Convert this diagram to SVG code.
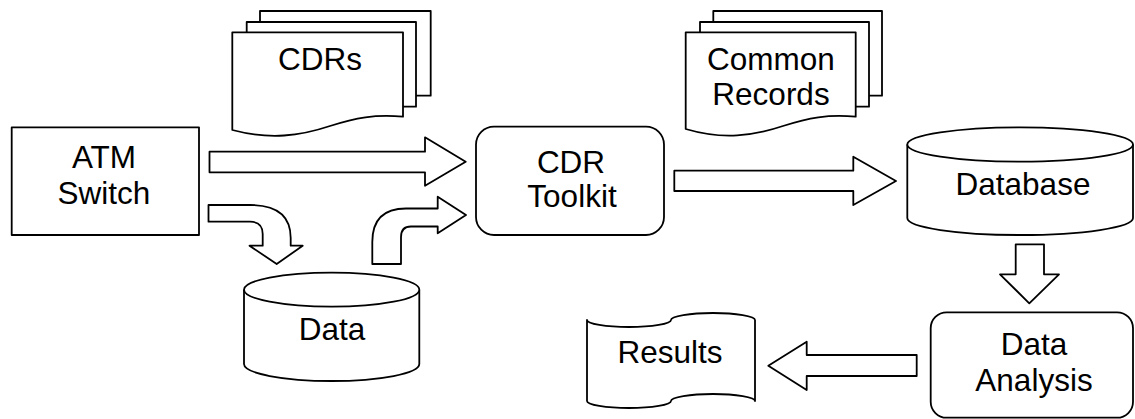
<svg xmlns="http://www.w3.org/2000/svg" width="1135" height="419" viewBox="0 0 1135 419">
<style>
.s{fill:#fff;stroke:#000;stroke-width:1.8;stroke-linejoin:round}
.t{font-family:"Liberation Sans",Arial,sans-serif;font-size:31.5px;fill:#000;text-anchor:middle}
</style>
<rect width="1135" height="419" fill="#fff"/>
<g id="connectors">
<path class="s" d="M209.5,151.7 L425,151.7 L425,137.3 L465.7,161.7 L425,185.7 L425,172.3 L209.5,172.3 Z"/>
<path class="s" d="M208.5,205 L250,205 Q290.7,205 290.7,238 L290.7,245.7 L302.7,245.7 L276.7,264 L249.5,245.7 L262.7,245.7 L262.7,234 Q262.7,221.7 250,221.7 L208.5,221.7 Z"/>
<path class="s" d="M372.3,264 L372.3,242 Q372.3,208.5 406,208.5 L437.7,208.5 L437.7,196.7 L466,215 L437.7,233.3 L437.7,226.5 L411,226.5 Q401,226.5 401,237 L401,264 Z"/>
<path class="s" d="M674.3,170.7 L853.3,170.7 L853.3,156.7 L896,181 L853.3,205 L853.3,191 L674.3,191 Z"/>
<path class="s" d="M1015.7,244.3 L1044,244.3 L1044,274.3 L1059,274.3 L1029.3,303.3 L1000,274.3 L1015.7,274.3 Z"/>
<path class="s" d="M916.7,355 L806.7,355 L806.7,341.7 L768.3,365.8 L806.7,390 L806.7,376 L916.7,376 Z"/>
</g>
<g id="atm-switch">
<rect class="s" x="11.7" y="127.3" width="187.3" height="107.7"/>
<text class="t" x="104" y="168">ATM</text>
<text class="t" x="104" y="204">Switch</text>
</g>
<g id="cdrs">
<rect class="s" x="260" y="11" width="170.7" height="84.7"/>
<rect class="s" x="246.7" y="22" width="169.3" height="84.7"/>
<path class="s" d="M232.3,32.3 L403,32.3 L403,116.7 C375,114 355,118 330,126 C300,136 270,140 232.3,130 Z"/>
<text class="t" x="320" y="70">CDRs</text>
</g>
<g id="common-records">
<rect class="s" x="713.3" y="11" width="168.7" height="84.7"/>
<rect class="s" x="700" y="22" width="169" height="84.7"/>
<path class="s" d="M685.7,32.3 L855.7,32.3 L855.7,116.7 C828,114 808,118 783,126 C753,136 723,140 685.7,129 Z"/>
<text class="t" x="771" y="70">Common</text>
<text class="t" x="771" y="105">Records</text>
</g>
<g id="cdr-toolkit">
<rect class="s" x="476" y="126.7" width="188" height="108.3" rx="18" ry="18"/>
<text class="t" x="571" y="173">CDR</text>
<text class="t" x="572" y="207">Toolkit</text>
</g>
<g id="data">
<path class="s" d="M244,289.7 L244,364 A87.65,17 0 0 0 419.3,364 L419.3,289.7"/>
<ellipse class="s" cx="331.65" cy="289.7" rx="87.65" ry="17"/>
<text class="t" x="332" y="340">Data</text>
</g>
<g id="database">
<path class="s" d="M907.3,144.5 L907.3,218 A112.85,17 0 0 0 1133,218 L1133,144.5"/>
<ellipse class="s" cx="1020.15" cy="144.5" rx="112.85" ry="17.2"/>
<text class="t" x="1023" y="195">Database</text>
</g>
<g id="data-analysis">
<rect class="s" x="930.7" y="312.3" width="202.3" height="105.4" rx="16" ry="16"/>
<text class="t" x="1034" y="355">Data</text>
<text class="t" x="1034" y="391">Analysis</text>
</g>
<g id="results">
<path class="s" d="M587,320 A42,7 0 0 0 671,320 A42,7 0 0 1 755,320 L755,401 A42,7 0 0 0 671,401 A42,7 0 0 1 587,401 Z"/>
<text class="t" x="670" y="363">Results</text>
</g>
</svg>
